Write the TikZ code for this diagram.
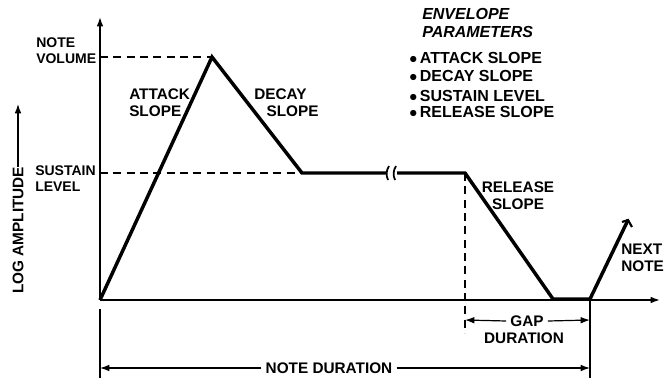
\documentclass[tikz,border=0pt]{standalone}
\usepackage{fontspec}
\setmainfont{Liberation Sans}
\usetikzlibrary{arrows.meta}
\begin{document}
\begin{tikzpicture}[x=0.75pt,y=-0.75pt,
  lbl/.style={font=\bfseries\fontsize{10.5}{12}\selectfont, inner sep=0pt, align=left},
  blbl/.style={lbl, font=\bfseries\fontsize{11.5}{12.5}\selectfont},
  lst/.style={lbl, anchor=west, font=\bfseries\fontsize{12}{13}\selectfont},
  env/.style={line width=2.6pt, line join=miter},
  axis/.style={line width=1.2pt},
  dashguide/.style={line width=1pt, dash pattern=on 6pt off 4pt},
  tipa/.style={-{Latex[length=7pt,width=5pt]}},
  dimline/.style={line width=0.9pt}
]
\useasboundingbox (0,0) rectangle (669,379);
% key points
\coordinate (O) at (100,300);
\coordinate (Ytop) at (100,17);
\coordinate (Xend) at (660,300);
\coordinate (P) at (212,57);
\coordinate (D) at (302,173);
\coordinate (B1) at (386,173);
\coordinate (B2) at (397,173);
\coordinate (R) at (465,173);
\coordinate (G1) at (553,299);
\coordinate (G2) at (590,299);
\coordinate (N) at (628,220);
\coordinate (Pv) at (100,57);
\coordinate (Sv) at (100,173);
\coordinate (Rb) at (465,333);
\coordinate (G2b) at (590,378);
\coordinate (Ob1) at (100,309);
\coordinate (Ob2) at (100,378);
\coordinate (Gl) at (465,320);
\coordinate (Gr) at (590,320);
\coordinate (Nl) at (100,368);
\coordinate (Nr) at (590,368);

% axes
\draw[axis, tipa] (O) -- (Ytop);
\draw[axis, tipa] (O) -- (Xend);
% dashed guides
\draw[dashguide] (Pv) -- (P);
\draw[dashguide] (Sv) -- (D);
\draw[dashguide] (R) -- (Rb);
% envelope
\draw[env] (O) -- (P) -- (D) -- (B1);
\draw[env] (B2) -- (R) -- (G1) -- (G2) -- (N);
\draw[line width=1.6pt] (N) ++(-6,2) -- (N) -- ++(4,7);
% break marks
\draw[line width=1.3pt] (389,166) .. controls (386,171) and (386,175) .. (388,180);
\draw[line width=1.3pt] (396,166) .. controls (393,171) and (393,175) .. (395,180);
% dimension verticals
\draw[dimline] (Ob1) -- (Ob2);
\draw[dimline] (G2) -- (G2b);

% labels
\node[lbl, anchor=west] (nv) at (36,51) {NOTE\\VOLUME};
\node[lbl, anchor=west] (sl) at (35,179) {SUSTAIN\\LEVEL};
\node[blbl, anchor=west] (as) at (129,103) {ATTACK\\SLOPE};
\node[blbl, anchor=west] (ds) at (254,103) {DECAY\\\hspace*{0.8em}SLOPE};
\node[blbl, align=center] (rs) at (518,196) {RELEASE\\SLOPE};
\node[blbl, anchor=west] (nn) at (621,258) {NEXT\\NOTE};
\node[blbl, rotate=90, anchor=west] (la) at (18,294) {LOG AMPLITUDE};
\draw[dimline, tipa] (la.east) -- (18,104);

% gap duration
\node[blbl, inner xsep=3pt] (gap) at (527,321) {GAP};
\node[blbl] (gd) at (524,338) {DURATION};
\draw[dimline, tipa] (gap.west) -- (Gl);
\draw[dimline, tipa] (gap.east) -- (Gr);
% note duration
\node[blbl, inner xsep=3pt] (nd) at (329,368) {NOTE DURATION};
\draw[dimline, tipa] (nd.west) -- (Nl);
\draw[dimline, tipa] (nd.east) -- (Nr);

% envelope parameters
\node[lbl, anchor=west, font=\bfseries\itshape\fontsize{12}{14}\selectfont] (ep) at (422,23) {ENVELOPE\\PARAMETERS};
\node[lst] (l1) at (409,58) {$\bullet$\,ATTACK SLOPE};
\node[lst] (l2) at (409,76) {$\bullet$\,DECAY SLOPE};
\node[lst] (l3) at (409,96) {$\bullet$\,SUSTAIN LEVEL};
\node[lst] (l4) at (409,112) {$\bullet$\,RELEASE SLOPE};
\end{tikzpicture}
\end{document}
